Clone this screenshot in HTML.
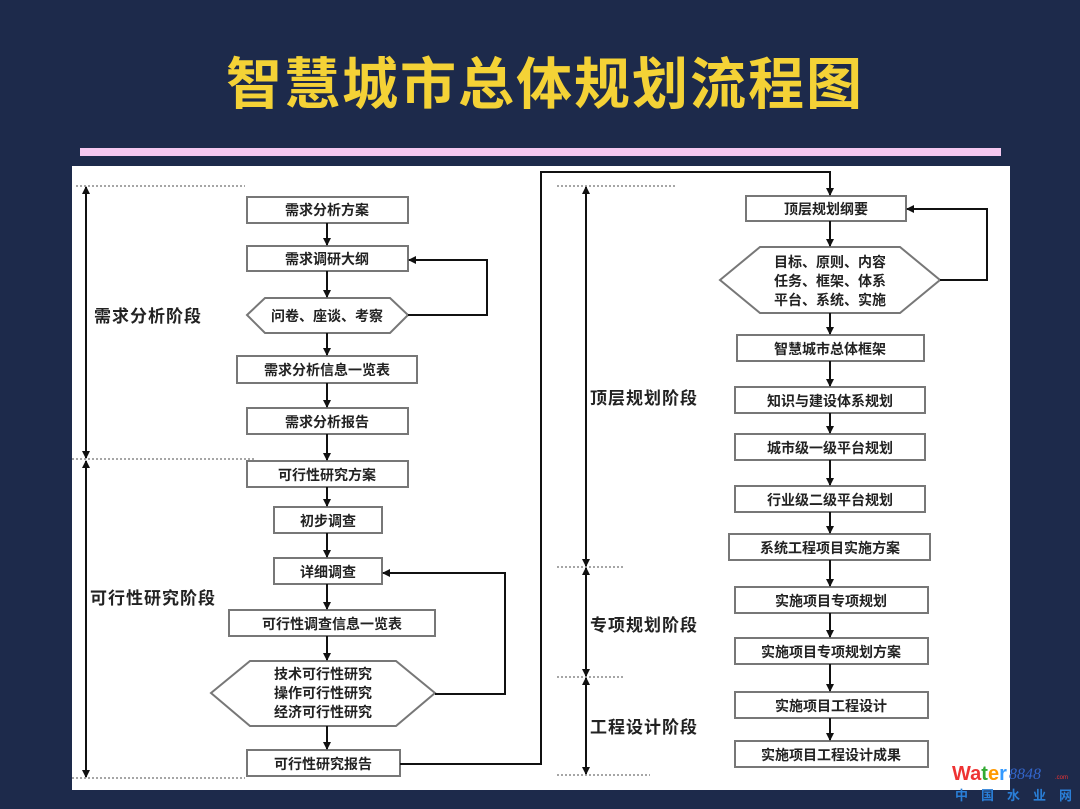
<!DOCTYPE html>
<html><head><meta charset="utf-8"><style>
html,body{margin:0;padding:0;width:1080px;height:809px;overflow:hidden;background:#1d2a4b;}
svg{display:block}
text{font-family:"Liberation Sans","Noto Sans CJK SC",sans-serif;font-weight:bold;fill:#222;}
</style></head><body>
<svg width="1080" height="809" viewBox="0 0 1080 809" xmlns="http://www.w3.org/2000/svg">
<defs><marker id="a" markerWidth="8" markerHeight="8" refX="7" refY="4" orient="auto" markerUnits="userSpaceOnUse"><path d="M0,0 L8,4 L0,8 z" fill="#111"/></marker></defs>
<rect width="1080" height="809" fill="#1d2a4b"/>
<text x="545" y="104" text-anchor="middle" font-size="56" style="fill:#f4d236;font-family:'Noto Sans CJK SC',sans-serif;font-weight:bold" letter-spacing="2">智慧城市总体规划流程图</text>
<rect x="80" y="148" width="921" height="8" fill="#f5c8f0"/>
<rect x="72" y="166" width="938" height="624" fill="#fff"/>
<g stroke="#777" stroke-width="2" fill="#fff">
<rect x="247" y="197" width="161" height="26"/>
<rect x="247" y="246" width="161" height="25"/>
<polygon points="247,315 265,298 390,298 408,315 390,333 265,333"/>
<rect x="237" y="356" width="180" height="27"/>
<rect x="247" y="408" width="161" height="26"/>
<rect x="247" y="461" width="161" height="26"/>
<rect x="274" y="507" width="108" height="26"/>
<rect x="274" y="558" width="108" height="26"/>
<rect x="229" y="610" width="206" height="26"/>
<polygon points="211,693 250,661 396,661 435,693 396,726 250,726"/>
<rect x="247" y="750" width="153" height="26"/>
<rect x="746" y="196" width="160" height="25"/>
<polygon points="720,280 760,247 900,247 940,280 900,313 760,313"/>
<rect x="737" y="335" width="187" height="26"/>
<rect x="735" y="387" width="190" height="26"/>
<rect x="735" y="434" width="190" height="26"/>
<rect x="735" y="486" width="190" height="26"/>
<rect x="729" y="534" width="201" height="26"/>
<rect x="735" y="587" width="193" height="26"/>
<rect x="735" y="638" width="193" height="26"/>
<rect x="735" y="692" width="193" height="26"/>
<rect x="735" y="741" width="193" height="26"/>
</g>
<g font-size="14" text-anchor="middle">
<text x="327" y="215">需求分析方案</text>
<text x="327" y="264">需求调研大纲</text>
<text x="327" y="321">问卷、座谈、考察</text>
<text x="327" y="375">需求分析信息一览表</text>
<text x="327" y="427">需求分析报告</text>
<text x="327" y="480">可行性研究方案</text>
<text x="328" y="526">初步调查</text>
<text x="328" y="577">详细调查</text>
<text x="332" y="629">可行性调查信息一览表</text>
<text x="323" y="679">技术可行性研究</text>
<text x="323" y="698">操作可行性研究</text>
<text x="323" y="717">经济可行性研究</text>
<text x="323" y="769">可行性研究报告</text>
<text x="826" y="214">顶层规划纲要</text>
<text x="830" y="267">目标、原则、内容</text>
<text x="830" y="286">任务、框架、体系</text>
<text x="830" y="305">平台、系统、实施</text>
<text x="830" y="354">智慧城市总体框架</text>
<text x="830" y="406">知识与建设体系规划</text>
<text x="830" y="453">城市级一级平台规划</text>
<text x="830" y="505">行业级二级平台规划</text>
<text x="830" y="553">系统工程项目实施方案</text>
<text x="831" y="606">实施项目专项规划</text>
<text x="831" y="657">实施项目专项规划方案</text>
<text x="831" y="711">实施项目工程设计</text>
<text x="831" y="760">实施项目工程设计成果</text>
</g>
<g font-size="17" letter-spacing="1">
<text x="94" y="322">需求分析阶段</text>
<text x="90" y="604">可行性研究阶段</text>
<text x="590" y="404">顶层规划阶段</text>
<text x="590" y="631">专项规划阶段</text>
<text x="590" y="733">工程设计阶段</text>
</g>
<g stroke="#111" stroke-width="2" fill="none" marker-end="url(#a)">
<line x1="327" y1="223" x2="327" y2="245"/>
<line x1="327" y1="271" x2="327" y2="297"/>
<line x1="327" y1="333" x2="327" y2="355"/>
<line x1="327" y1="383" x2="327" y2="407"/>
<line x1="327" y1="434" x2="327" y2="460"/>
<line x1="327" y1="487" x2="327" y2="506"/>
<line x1="327" y1="533" x2="327" y2="557"/>
<line x1="327" y1="584" x2="327" y2="609"/>
<line x1="327" y1="636" x2="327" y2="660"/>
<line x1="327" y1="726" x2="327" y2="749"/>
<polyline points="408,315 487,315 487,260 409,260"/>
<polyline points="435,694 505,694 505,573 383,573"/>
<polyline points="400,764 541,764 541,172 830,172 830,195"/>
<line x1="830" y1="221" x2="830" y2="246"/>
<line x1="830" y1="313" x2="830" y2="334"/>
<line x1="830" y1="361" x2="830" y2="386"/>
<line x1="830" y1="413" x2="830" y2="433"/>
<line x1="830" y1="460" x2="830" y2="485"/>
<line x1="830" y1="512" x2="830" y2="533"/>
<line x1="830" y1="560" x2="830" y2="586"/>
<line x1="830" y1="613" x2="830" y2="637"/>
<line x1="830" y1="664" x2="830" y2="691"/>
<line x1="830" y1="718" x2="830" y2="740"/>
<polyline points="940,280 987,280 987,209 907,209"/>
<line x1="86" y1="300" x2="86" y2="187"/>
<line x1="86" y1="300" x2="86" y2="458"/>
<line x1="86" y1="600" x2="86" y2="461"/>
<line x1="86" y1="600" x2="86" y2="777"/>
<line x1="586" y1="380" x2="586" y2="187"/>
<line x1="586" y1="380" x2="586" y2="566"/>
<line x1="586" y1="620" x2="586" y2="568"/>
<line x1="586" y1="620" x2="586" y2="676"/>
<line x1="586" y1="720" x2="586" y2="678"/>
<line x1="586" y1="720" x2="586" y2="774"/>
</g>
<g stroke="#888" stroke-width="1.5" stroke-dasharray="2,2">
<line x1="76" y1="186" x2="245" y2="186"/>
<line x1="72" y1="459" x2="255" y2="459"/>
<line x1="72" y1="778" x2="245" y2="778"/>
<line x1="557" y1="186" x2="675" y2="186"/>
<line x1="557" y1="567" x2="625" y2="567"/>
<line x1="557" y1="677" x2="625" y2="677"/>
<line x1="557" y1="775" x2="650" y2="775"/>
</g>
<text x="952" y="780" font-size="20" style="fill:#e33;font-family:'Liberation Sans',sans-serif;font-weight:bold">Wa<tspan style="fill:#3a3">t</tspan><tspan style="fill:#f90">e</tspan><tspan style="fill:#39f">r</tspan></text>
<text x="1009" y="779" font-size="16" style="fill:#36c;font-style:italic;font-family:'Liberation Serif',serif;font-weight:normal">8848</text>
<text x="1055" y="779" font-size="6" style="fill:#e33;font-weight:normal">.com</text>
<text x="955" y="800" font-size="13" style="fill:#2a7fd8" letter-spacing="13">中国水业网</text>
</svg>
</body></html>
